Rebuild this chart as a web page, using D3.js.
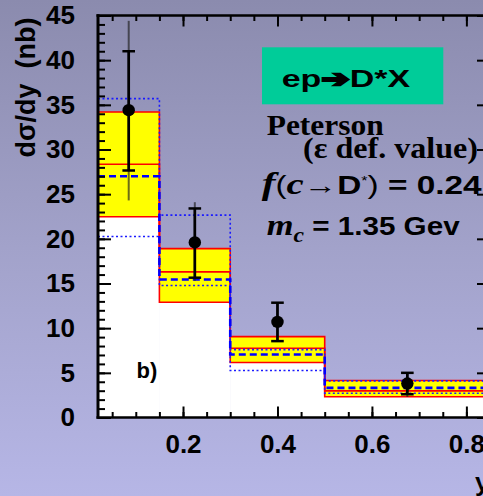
<!DOCTYPE html>
<html><head><meta charset="utf-8">
<script src="https://cdn.jsdelivr.net/npm/d3@7"></script>
<style>html,body{margin:0;padding:0;overflow:hidden;background:#a0a0c8}</style>
</head><body>
<svg id="c" width="483" height="496"></svg>
<script>
// ---- data ----
const binEdges   = [0.02, 0.15, 0.30, 0.50, 0.85];
const yCenters   = [0.085, 0.225, 0.40, 0.675];
const dataVal    = [34.4, 19.6, 10.7, 3.8];
const statHi     = [41.0, 23.4, 12.85, 5.0];
const statLo     = [27.65, 15.65, 8.55, 2.6];
const totHi      = [44.4, 24.1, 12.85, 5.0];
const totLo      = [24.3, 15.3, 8.55, 2.3];
const bandHi     = [34.2, 18.9, 9.05, 4.14];
const bandMid    = [28.35, 16.3, 7.75, 2.98];
const bandLo     = [22.47, 12.9, 6.15, 2.32];
const dashedVals = [27.0, 15.45, 7.05, 3.32];
const dotHi      = [35.7, 22.65, 7.6, 4.1];
const dotLo      = [20.26, 14.78, 5.26, 2.72];
const xMajor     = [0.2, 0.4, 0.6, 0.8];
const xTickLabels= ["0.2", "0.4", "0.6", "0.8"];
const xMinor     = d3.range(1, 18).map(i => +(i * 0.05).toFixed(2));
const yMajor     = [0, 5, 10, 15, 20, 25, 30, 35, 40, 45];
const yTickLabels= ["0", "5", "10", "15", "20", "25", "30", "35", "40", "45"];
const yMinor     = d3.range(0, 46);

// ---- layout ----
const svg = d3.select("#c");
const x = d3.scaleLinear([0.02, 0.85], [98, 490]);
const y = d3.scaleLinear([0, 45], [417.5, 15.5]);

const defs = svg.append("defs");
const g = defs.append("linearGradient").attr("id", "bg").attr("x1", 0).attr("y1", 0).attr("x2", 0).attr("y2", 1);
g.append("stop").attr("offset", 0).attr("stop-color", "#8b8bae");
g.append("stop").attr("offset", 0.5).attr("stop-color", "#a2a2ca");
g.append("stop").attr("offset", 1).attr("stop-color", "#b6b6e6");
svg.append("rect").attr("width", 483).attr("height", 496).attr("fill", "url(#bg)");

const bins = dataVal.map((d, i) => i);

// white fill under lower band
svg.append("g").selectAll("rect").data(bins).join("rect")
  .attr("x", i => x(binEdges[i])).attr("width", i => x(binEdges[i + 1]) - x(binEdges[i]) + 0.5)
  .attr("y", i => y(bandLo[i])).attr("height", i => y(0) - y(bandLo[i]))
  .attr("fill", "#ffffff");
// yellow band
svg.append("g").selectAll("rect").data(bins).join("rect")
  .attr("x", i => x(binEdges[i])).attr("width", i => x(binEdges[i + 1]) - x(binEdges[i]))
  .attr("y", i => y(bandHi[i])).attr("height", i => y(bandLo[i]) - y(bandHi[i]))
  .attr("fill", "#ffff00");

function stepPath(vals) {
  const pts = vals.map((v, i) => [binEdges[i], v]);
  pts.push([binEdges[vals.length], vals[vals.length - 1]]);
  return d3.line().x(p => x(p[0])).y(p => y(p[1])).curve(d3.curveStepAfter)(pts);
}
[bandHi, bandMid, bandLo].forEach(v =>
  svg.append("path").attr("d", stepPath(v)).attr("fill", "none").attr("stroke", "#ff0000").attr("stroke-width", 1.6));
[dotHi, dotLo].forEach(v =>
  svg.append("path").attr("d", stepPath(v)).attr("fill", "none").attr("stroke", "#1a1aff")
    .attr("stroke-width", 1.6).attr("stroke-dasharray", "2,2.5"));
svg.append("path").attr("d", stepPath(dashedVals)).attr("fill", "none").attr("stroke", "#0000ff")
  .attr("stroke-width", 2.6).attr("stroke-dasharray", "7,4");

// ---- axes / frame ----
function styleAx(sel) { sel.select(".domain").remove(); sel.selectAll("line").attr("stroke", "#000").attr("stroke-width", 2); }
svg.append("g").attr("transform", `translate(${x(0.02)},0)`).call(d3.axisRight(y).tickValues(yMinor).tickSize(7).tickFormat("")).call(styleAx);
svg.append("g").attr("transform", `translate(${x(0.02)},0)`).call(d3.axisRight(y).tickValues(yMajor).tickSize(13).tickFormat("")).call(styleAx);
svg.append("g").attr("transform", `translate(${x(0.85)},0)`).call(d3.axisLeft(y).tickValues(yMinor).tickSize(7).tickFormat("")).call(styleAx);
svg.append("g").attr("transform", `translate(${x(0.85)},0)`).call(d3.axisLeft(y).tickValues(yMajor).tickSize(13).tickFormat("")).call(styleAx);
svg.append("g").attr("transform", `translate(0,${y(0)})`).call(d3.axisTop(x).tickValues(xMinor).tickSize(5.5).tickFormat("")).call(styleAx);
svg.append("g").attr("transform", `translate(0,${y(0)})`).call(d3.axisTop(x).tickValues(xMajor).tickSize(11).tickFormat("")).call(styleAx);
svg.append("g").attr("transform", `translate(0,${y(45)})`).call(d3.axisBottom(x).tickValues(xMinor).tickSize(5.5).tickFormat("")).call(styleAx);
svg.append("g").attr("transform", `translate(0,${y(45)})`).call(d3.axisBottom(x).tickValues(xMajor).tickSize(11).tickFormat("")).call(styleAx);

// labels
const yl = svg.append("g").attr("transform", `translate(${x(0.02)},0)`)
  .call(d3.axisLeft(y).tickValues(yMajor).tickSize(0).tickPadding(23).tickFormat((d, i) => yTickLabels[i]));
yl.select(".domain").remove();
yl.selectAll("text").attr("font-family", "Liberation Sans, Arial, sans-serif").attr("font-weight", "bold").attr("font-size", 26).attr("fill", "#000");
const xl = svg.append("g").attr("transform", `translate(0,${y(0)})`)
  .call(d3.axisBottom(x).tickValues(xMajor).tickSize(0).tickPadding(17).tickFormat((d, i) => xTickLabels[i]));
xl.select(".domain").remove();
xl.selectAll("text").attr("font-family", "Liberation Sans, Arial, sans-serif").attr("font-weight", "bold").attr("font-size", 26).attr("fill", "#000");

// frame lines
svg.append("line").attr("x1", x(0.02)).attr("x2", x(0.02)).attr("y1", y(45) - 1.3).attr("y2", y(0) + 1.3).attr("stroke", "#000").attr("stroke-width", 3);
svg.append("line").attr("x1", x(0.02) - 1.5).attr("x2", x(0.85)).attr("y1", y(0)).attr("y2", y(0)).attr("stroke", "#000").attr("stroke-width", 2.7);
svg.append("line").attr("x1", x(0.02) - 1.5).attr("x2", x(0.85)).attr("y1", y(45)).attr("y2", y(45)).attr("stroke", "#000").attr("stroke-width", 2.7);
svg.append("line").attr("x1", x(0.85)).attr("x2", x(0.85)).attr("y1", y(45)).attr("y2", y(0)).attr("stroke", "#000").attr("stroke-width", 3);

// ---- data points ----
const pts = svg.append("g");
pts.selectAll("line.tot").data(bins).join("line").attr("class", "tot")
  .attr("x1", i => x(yCenters[i])).attr("x2", i => x(yCenters[i]))
  .attr("y1", i => y(totHi[i])).attr("y2", i => y(totLo[i]))
  .attr("stroke", "rgba(30,30,30,0.65)").attr("stroke-width", 2);
pts.selectAll("line.stat").data(bins).join("line").attr("class", "stat")
  .attr("x1", i => x(yCenters[i])).attr("x2", i => x(yCenters[i]))
  .attr("y1", i => y(statHi[i])).attr("y2", i => y(statLo[i]))
  .attr("stroke", "#000").attr("stroke-width", 2.7);
[statHi, statLo].forEach(arr =>
  pts.append("g").selectAll("line").data(bins).join("line")
    .attr("x1", i => x(yCenters[i]) - 6.3).attr("x2", i => x(yCenters[i]) + 6.3)
    .attr("y1", i => y(arr[i])).attr("y2", i => y(arr[i]))
    .attr("stroke", "#000").attr("stroke-width", 2.5));
pts.selectAll("circle").data(bins).join("circle")
  .attr("cx", i => x(yCenters[i])).attr("cy", i => y(dataVal[i])).attr("r", 6.2).attr("fill", "#000");

// ---- texts ----
const SANS = "Liberation Sans, Arial, sans-serif";
const SERIF = "Liberation Serif, Times New Roman, serif";
svg.append("text").attr("transform", "translate(35,87.5) rotate(-90)")
  .attr("text-anchor", "middle").attr("font-family", SANS).attr("font-weight", "bold").attr("font-size", 27)
  .style("white-space", "pre").text("dσ/dy  (nb)");
svg.append("text").attr("x", 475).attr("y", 491).attr("font-family", SANS).attr("font-weight", "bold").attr("font-size", 26).text("y");
svg.append("text").attr("x", 136.5).attr("y", 378.3).attr("font-family", SANS).attr("font-weight", "bold").attr("font-size", 22).text("b)");

function fit(sel, x0, base, w) {
  const nw = sel.node().getComputedTextLength();
  sel.attr("transform", `translate(${x0},${base}) scale(${w / nw},1)`);
}

svg.append("rect").attr("x", 262).attr("y", 47.3).attr("width", 181.3).attr("height", 57).attr("fill", "#00cc99");
const t1 = svg.append("text").attr("font-family", SANS).attr("font-weight", "bold").attr("font-size", 24);
t1.append("tspan").text("ep");
t1.append("tspan").attr("font-family", "DejaVu Sans").attr("stroke", "#000").attr("stroke-width", 2.2).text("➔");
t1.append("tspan").text("D*X");
fit(t1, 281.7, 86.7, 128.5);

const t2 = svg.append("text").attr("font-family", SERIF).attr("font-weight", "bold").attr("font-size", 30).text("Peterson");
fit(t2, 266.7, 135, 117);
const t3 = svg.append("text").attr("font-family", SERIF).attr("font-weight", "bold").attr("font-size", 30).text("(ε def. value)");
fit(t3, 303, 158, 175);

const t4 = svg.append("text").attr("font-family", SANS).attr("font-weight", "bold").attr("font-size", 25);
t4.append("tspan").attr("font-family", SERIF).attr("font-style", "italic").attr("font-weight", "bold").attr("font-size", 31).text("f");
t4.append("tspan").attr("font-weight", "normal").text("(");
t4.append("tspan").attr("font-family", SERIF).attr("font-style", "italic").attr("font-weight", "bold").attr("font-size", 29).text("c");
t4.append("tspan").attr("font-family", SERIF).attr("font-weight", "normal").attr("font-size", 25).text("→");
t4.append("tspan").text("D");
t4.append("tspan").attr("font-size", 12).attr("font-weight", "normal").attr("dy", -9).text("*");
t4.append("tspan").attr("font-weight", "normal").attr("dy", 9).text(")");
t4.append("tspan").style("white-space", "pre").text(" = 0.24");
fit(t4, 261.7, 193.5, 220);

const t5 = svg.append("text").attr("font-family", SANS).attr("font-weight", "bold").attr("font-size", 25).style("white-space", "pre");
t5.append("tspan").attr("font-family", SERIF).attr("font-style", "italic").attr("font-size", 29).text("m");
t5.append("tspan").attr("font-family", SERIF).attr("font-style", "italic").attr("font-size", 20).attr("dy", 7).text("c");
t5.append("tspan").attr("dy", -7).text(" = 1.35 Gev");
fit(t5, 266.7, 235, 193);
</script>
</body></html>
